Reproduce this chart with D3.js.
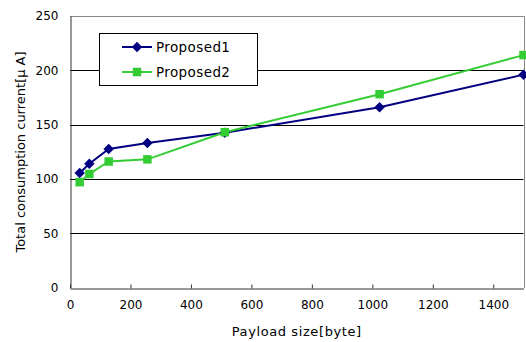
<!DOCTYPE html>
<html><head><meta charset="utf-8">
<script src="https://cdn.jsdelivr.net/npm/d3@7"></script>
<style>body{margin:0;background:#fff}svg{display:block}text{font-family:"DejaVu Sans",sans-serif;fill:#000}</style>
</head><body><svg id="c" width="526" height="342"></svg>
<script>
const payload = [32, 64, 128, 256, 512, 1024, 1500];
const proposed1 = [105.5, 114, 127.5, 133, 142.5, 166, 196];
const proposed2 = [97, 104.5, 116, 118, 143, 178, 214];
const seriesNames = ["Proposed1", "Proposed2"];
const xTicks = [0, 200, 400, 600, 800, 1000, 1200, 1400];
const yTicks = [0, 50, 100, 150, 200, 250];

const svg = d3.select("#c");
const L = 70, R = 523.5, T = 16, B = 287.5;
const x = d3.scaleLinear().domain([0, 1500]).range([L, R]);
const y = d3.scaleLinear().domain([0, 250]).range([B, T]);

// gridlines
svg.append("g").selectAll("line").data(yTicks.filter(d => d > 0 && d < 250)).join("line")
  .attr("x1", L).attr("x2", R).attr("y1", d => Math.round(y(d)) + 0.5).attr("y2", d => Math.round(y(d)) + 0.5)
  .attr("stroke", "#000").attr("stroke-width", 1);
// top/right border
svg.append("path").attr("d", `M${L},${Math.round(T)+0.5}H${Math.round(R)+0.5}V${Math.round(B)}`)
  .attr("fill", "none").attr("stroke", "#888");

// axes
const xAxis = d3.axisBottom(x).tickValues(xTicks).tickFormat(d3.format("d")).tickSize(-4).tickSizeOuter(0).tickPadding(12);
const gx = svg.append("g").attr("transform", `translate(0,${Math.round(B)+0.5})`).call(xAxis);
gx.select(".domain").attr("stroke", "#333");
gx.selectAll(".tick line").attr("stroke", "#333");
gx.selectAll("text").attr("font-size", 12).attr("font-family", "DejaVu Sans").attr("fill", "#111");

const yAxis = d3.axisLeft(y).tickValues(yTicks).tickFormat(d3.format("d")).tickSize(0).tickPadding(12);
const gy = svg.append("g").attr("transform", `translate(${L+0.5},0)`).call(yAxis);
gy.select(".domain").attr("stroke", "#333");
gy.selectAll("text").attr("font-size", 12).attr("font-family", "DejaVu Sans").attr("fill", "#111");

// axis titles
svg.append("text").attr("x", (L + R) / 2).attr("y", 336).attr("text-anchor", "middle")
  .attr("font-size", 13).attr("letter-spacing", 0.6).text("Payload size[byte]");
svg.append("text").attr("transform", `translate(25,152) rotate(-90)`).attr("text-anchor", "middle")
  .attr("font-size", 13).text("Total consumption current[μ A]");

// lines
const colors = ["#000080", "#33CC33"];
const data = [proposed1, proposed2];
const line = d3.line().x((d, i) => x(payload[i])).y(d => y(d));
const diamond = d3.symbol().type(d3.symbolDiamond2).size(70);
const square = d3.symbol().type(d3.symbolSquare).size(72);

data.forEach((vals, k) => {
  svg.append("path").datum(vals).attr("d", line).attr("fill", "none")
    .attr("stroke", colors[k]).attr("stroke-width", 2);
});
data.forEach((vals, k) => {
  svg.append("g").selectAll("path").data(vals).join("path")
    .attr("transform", (d, i) => `translate(${x(payload[i])},${y(d)})`)
    .attr("d", k === 0 ? diamond : square).attr("fill", colors[k]);
});

// legend
const lg = svg.append("g");
lg.append("rect").attr("x", 99.5).attr("y", 33.5).attr("width", 158).attr("height", 52)
  .attr("fill", "#fff").attr("stroke", "#000");
seriesNames.forEach((n, k) => {
  const yy = 47 + k * 25;
  lg.append("line").attr("x1", 122).attr("x2", 152).attr("y1", yy).attr("y2", yy)
    .attr("stroke", colors[k]).attr("stroke-width", 2);
  lg.append("path").attr("transform", `translate(137,${yy})`).attr("d", k === 0 ? diamond : square).attr("fill", colors[k]);
  lg.append("text").attr("x", 156).attr("y", yy + 5).attr("font-size", 13.5).attr("letter-spacing", 0.4).text(n);
});
</script></body></html>
